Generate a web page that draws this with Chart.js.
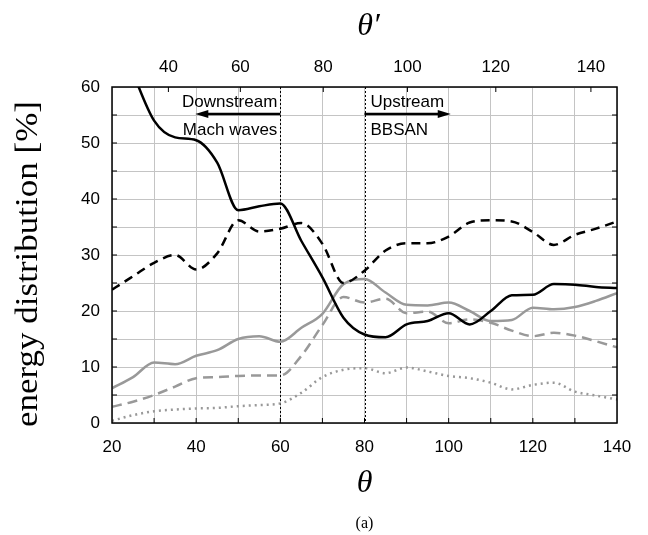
<!DOCTYPE html>
<html>
<head>
<meta charset="utf-8">
<script src="https://cdn.jsdelivr.net/npm/chart.js@4.4.1/dist/chart.umd.min.js"></script>
<style>
  html, body { margin: 0; padding: 0; background: #fff; }
  #wrap { width: 648px; height: 535px; }
</style>
</head>
<body>
<div id="wrap"><canvas id="energyChart" width="648" height="535"></canvas></div>
<script>
// polar angle theta (deg), sampled every 5 degrees
const angles = [20, 25, 30, 35, 40, 45, 50, 55, 60, 65, 70, 75, 80, 85, 90, 95, 100, 105, 110, 115, 120, 125, 130, 135, 140];

// energy distribution [%]
const blackSolid  = [72, 62.5, 54, 51, 50.5, 46.5, 38, 38.7, 39.2, 32.5, 26, 18.8, 15.8, 15.3, 17.6, 18.2, 19.6, 17.6, 20, 22.8, 22.9, 24.8, 24.7, 24.3, 24.1];
const blackDashed = [23.8, 26.2, 28.6, 30, 27.4, 30.3, 36.2, 34.2, 34.7, 35.7, 32, 25, 27.2, 30.8, 32.1, 32.1, 33.3, 35.8, 36.2, 36, 34.1, 31.8, 33.6, 34.7, 36];
const graySolid   = [6.2, 8.2, 10.8, 10.5, 12, 13, 15, 15.5, 14.5, 17, 19.5, 24.8, 25.7, 23.3, 21.1, 21, 21.5, 20, 18.2, 18.4, 20.6, 20.3, 20.7, 21.8, 23.2];
const grayDashed  = [2.9, 3.8, 5, 6.5, 8, 8.2, 8.4, 8.5, 8.5, 12, 17.5, 22.5, 21.5, 22.2, 19.6, 19.9, 17.8, 18.5, 17.9, 16.5, 15.5, 16.1, 15.6, 14.6, 13.5];
const grayDotted  = [0.4, 1.4, 2.1, 2.4, 2.6, 2.7, 3, 3.2, 3.5, 5.4, 8.2, 9.5, 9.8, 8.9, 9.9, 9.2, 8.4, 8, 7.2, 6, 6.8, 7.2, 5.6, 4.9, 4.2];

// top axis: theta' labels and where they sit on the theta scale
const topLabels = [40, 60, 80, 100, 120, 140];
const topAtTheta = [33.4, 50.5, 70.2, 90.2, 111.2, 133.8];

const TICK_FONT = { family: "'Liberation Sans', Arial, sans-serif", size: 17 };
const GRAY = "#999999";

function toPoints(vals) {
    return angles.map((a, i) => ({ x: a, y: vals[i] }));
}

function series(vals, color, dash) {
    return {
        data: toPoints(vals),
        borderColor: color,
        borderWidth: 2.5,
        borderDash: dash,
        pointRadius: 0,
        fill: false,
        cubicInterpolationMode: "monotone",
        clip: 0
    };
}

function arrow(ctx, x0, x1, y) {
    const dir = Math.sign(x1 - x0);
    ctx.beginPath();
    ctx.moveTo(x0, y);
    ctx.lineTo(x1 - dir * 10, y);
    ctx.lineWidth = 2.5;
    ctx.stroke();
    ctx.beginPath();
    ctx.moveTo(x1, y);
    ctx.lineTo(x1 - dir * 13, y - 4);
    ctx.lineTo(x1 - dir * 13, y + 4);
    ctx.closePath();
    ctx.fill();
}

const decorations = {
    id: "decorations",
    beforeDatasetsDraw(chart) {
        const { ctx, chartArea: a, scales: { x } } = chart;
        ctx.save();
        ctx.strokeStyle = "#000";
        ctx.lineWidth = 1;
        ctx.setLineDash([2, 2]);
        [60, 80].forEach(v => {
            const px = Math.round(x.getPixelForValue(v)) + 0.5;
            ctx.beginPath();
            ctx.moveTo(px, a.top);
            ctx.lineTo(px, a.bottom);
            ctx.stroke();
        });
        ctx.restore();
    },
    afterDatasetsDraw(chart) {
        const { ctx, chartArea: a, scales: { x, y } } = chart;
        ctx.save();
        ctx.strokeStyle = "#000";
        ctx.fillStyle = "#000";
        ctx.lineWidth = 1;
        const tl = 5;
        ctx.beginPath();
        for (let v = 30; v < 140; v += 10) {
            const px = x.getPixelForValue(v);
            ctx.moveTo(px, a.bottom);
            ctx.lineTo(px, a.bottom - tl);
        }
        topAtTheta.forEach(v => {
            const px = x.getPixelForValue(v);
            ctx.moveTo(px, a.top);
            ctx.lineTo(px, a.top + tl);
        });
        for (let v = 5; v < 60; v += 5) {
            const py = y.getPixelForValue(v);
            ctx.moveTo(a.left, py);
            ctx.lineTo(a.left + tl, py);
            ctx.moveTo(a.right, py);
            ctx.lineTo(a.right - tl, py);
        }
        ctx.stroke();

        ctx.lineWidth = 1.5;
        ctx.strokeRect(a.left, a.top, a.right - a.left, a.bottom - a.top);

        // annotations
        const x60 = x.getPixelForValue(60), x80 = x.getPixelForValue(80);
        const ya = y.getPixelForValue(55.2);
        arrow(ctx, x60, x.getPixelForValue(39.8), ya);
        arrow(ctx, x80, x.getPixelForValue(100.5), ya);
        ctx.font = "17px 'Liberation Sans', Arial, sans-serif";
        ctx.textBaseline = "alphabetic";
        ctx.textAlign = "right";
        ctx.fillText("Downstream", x60 - 3, a.top + 20);
        ctx.fillText("Mach waves", x60 - 3, a.top + 48);
        ctx.textAlign = "left";
        ctx.fillText("Upstream", x80 + 6, a.top + 20);
        ctx.fillText("BBSAN", x80 + 6, a.top + 48);
        ctx.restore();
    },
    afterDraw(chart) {
        const { ctx, chartArea: a } = chart;
        const cx = (a.left + a.right) / 2;
        ctx.save();
        ctx.fillStyle = "#000";
        ctx.textAlign = "center";
        ctx.textBaseline = "middle";
        ctx.font = "italic 32px 'Liberation Serif', 'DejaVu Serif', serif";
        ctx.fillText("θ", cx, 484);
        ctx.fillText("θ′", cx + 4, 27);
        ctx.font = "16px 'Liberation Serif', 'DejaVu Serif', serif";
        ctx.fillText("(a)", cx, 524);
        // y title, stretched a little to the width of the original serif face
        const label = "energy distribution [%]";
        ctx.font = "31px 'Liberation Serif', 'DejaVu Serif', serif";
        const w = ctx.measureText(label).width;
        ctx.translate(37, 264);
        ctx.rotate(-Math.PI / 2);
        ctx.scale(326 / w, 1);
        ctx.textBaseline = "alphabetic";
        ctx.fillText(label, 0, 0);
        ctx.restore();
    }
};

new Chart(document.getElementById("energyChart").getContext("2d"), {
    type: "line",
    data: {
        datasets: [
            series(blackSolid, "#000", []),
            series(blackDashed, "#000", [9, 6]),
            series(graySolid, GRAY, []),
            series(grayDashed, GRAY, [10, 6]),
            series(grayDotted, GRAY, [2, 4])
        ]
    },
    options: {
        responsive: false,
        animation: false,
        events: [],
        layout: { padding: { left: 0, right: 31, top: 0, bottom: 0 } },
        plugins: { legend: { display: false }, tooltip: { enabled: false } },
        scales: {
            x: {
                type: "linear",
                position: "bottom",
                min: 20, max: 140,
                afterFit: s => { s.height = 112; },
                border: { display: false },
                grid: { color: "#c4c4c4", lineWidth: 1, drawTicks: false },
                ticks: {
                    stepSize: 10,
                    padding: 14,
                    color: "#000",
                    font: TICK_FONT,
                    maxRotation: 0,
                    autoSkip: false,
                    callback: v => (v % 20 === 0 ? v : "")
                }
            },
            x2: {
                type: "linear",
                position: "top",
                min: 20, max: 140,
                afterFit: s => { s.height = 87; },
                afterBuildTicks: s => { s.ticks = topAtTheta.map(v => ({ value: v })); },
                border: { display: false },
                grid: { display: false, drawTicks: false },
                ticks: {
                    padding: 9,
                    color: "#000",
                    font: TICK_FONT,
                    maxRotation: 0,
                    autoSkip: false,
                    callback: (v, i) => topLabels[i]
                }
            },
            y: {
                min: 0, max: 60,
                afterFit: s => { s.width = 112; },
                border: { display: false },
                grid: { color: "#c4c4c4", lineWidth: 1, drawTicks: false },
                ticks: {
                    stepSize: 5,
                    padding: 12,
                    color: "#000",
                    font: TICK_FONT,
                    autoSkip: false,
                    callback: v => (v % 10 === 0 ? v : "")
                }
            }
        }
    },
    plugins: [decorations]
});
</script>
</body>
</html>
